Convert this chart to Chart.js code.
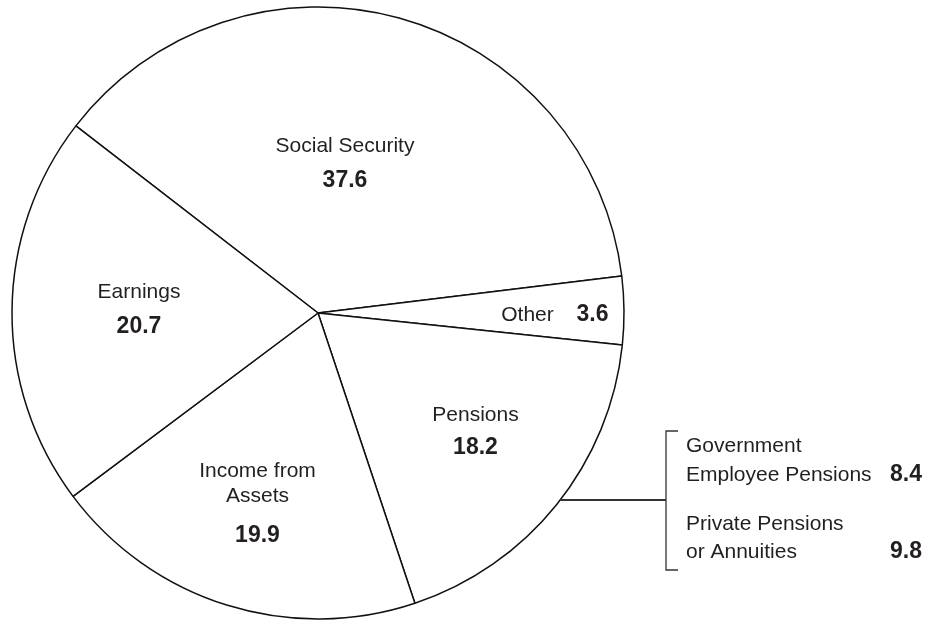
<!DOCTYPE html>
<html>
<head>
<meta charset="utf-8">
<script src="https://cdn.jsdelivr.net/npm/chart.js@4.4.1/dist/chart.umd.min.js"></script>
<style>
  html, body { margin: 0; padding: 0; background: #fff; }
  #wrap { width: 940px; height: 621px; }
</style>
</head>
<body>
<div id="wrap"><canvas id="pie"></canvas></div>
<script>
// Shares of aggregate income, percent
const categories = ["Social Security", "Other", "Pensions", "Income from Assets", "Earnings"];
const shares = [37.6, 3.6, 18.2, 19.9, 20.7];

// Pensions breakdown shown in the bracket on the right
const pensionParts = ["Government\nEmployee Pensions", "Private Pensions\nor Annuities"];
const pensionValues = [8.4, 9.8];

const FONT = "'Liberation Sans', Arial, Helvetica, sans-serif";
const INK = "#231f20";

// label layout per slice: lines of text, offsets from pie centre (px)
const labelLayout = [
  { dx: 27, lines: [["Social Security", -161]], num: [27, -126] },
  { dx: 209.5, lines: [["Other", 7.5]], num: [274.5, 7.5] },
  { dx: 157.5, lines: [["Pensions", 108]], num: [157.5, 141] },
  { dx: -60.5, lines: [["Income from", 164], ["Assets", 189]], num: [-60.5, 229] },
  { dx: -179, lines: [["Earnings", -15]], num: [-179, 20] },
];

const sliceLabels = {
  id: "sliceLabels",
  afterDatasetsDraw(chart) {
    const ctx = chart.ctx;
    const arcs = chart.getDatasetMeta(0).data;
    const cx = arcs[0].x, cy = arcs[0].y, r = arcs[0].outerRadius;
    ctx.save();
    ctx.fillStyle = INK;
    ctx.textAlign = "center";
    ctx.textBaseline = "alphabetic";
    labelLayout.forEach((lay, i) => {
      ctx.font = "21px " + FONT;
      lay.lines.forEach(([txt, dy]) => ctx.fillText(txt, cx + lay.dx, cy + dy));
      ctx.font = "bold 23px " + FONT;
      ctx.fillText(shares[i].toFixed(1), cx + lay.num[0], cy + lay.num[1]);
    });

    // bracket for pensions breakdown
    const lineY = cy + 187;
    const startX = cx + Math.sqrt(r * r - 187 * 187);
    const bx = 666;
    ctx.strokeStyle = "#333";
    ctx.lineWidth = 2;
    ctx.beginPath();
    ctx.moveTo(startX, lineY);
    ctx.lineTo(bx, lineY);
    ctx.stroke();
    ctx.lineWidth = 1.3;
    ctx.beginPath();
    ctx.moveTo(bx + 12, 431);
    ctx.lineTo(bx, 431);
    ctx.lineTo(bx, 570);
    ctx.lineTo(bx + 12, 570);
    ctx.stroke();

    const baselines = [[452, 481], [529.5, 557.5]];
    pensionParts.forEach((name, i) => {
      const parts = name.split("\n");
      ctx.font = "21px " + FONT;
      ctx.textAlign = "left";
      parts.forEach((p, j) => ctx.fillText(p, 686, baselines[i][j]));
      ctx.font = "bold 23px " + FONT;
      ctx.textAlign = "right";
      ctx.fillText(pensionValues[i].toFixed(1), 922, baselines[i][1]);
    });
    ctx.restore();
  }
};

new Chart(document.getElementById("pie"), {
  type: "pie",
  data: {
    labels: categories,
    datasets: [{
      data: shares,
      backgroundColor: "#ffffff",
      borderColor: "#111111",
      borderWidth: 1.5,
    }],
  },
  options: {
    responsive: true,
    maintainAspectRatio: false,
    animation: false,
    rotation: -52.3,
    radius: 306,
    layout: { padding: { left: 12, top: 7, right: 316, bottom: 2 } },
    plugins: {
      legend: { display: false },
      tooltip: { enabled: false },
    },
  },
  plugins: [sliceLabels],
});
</script>
</body>
</html>
